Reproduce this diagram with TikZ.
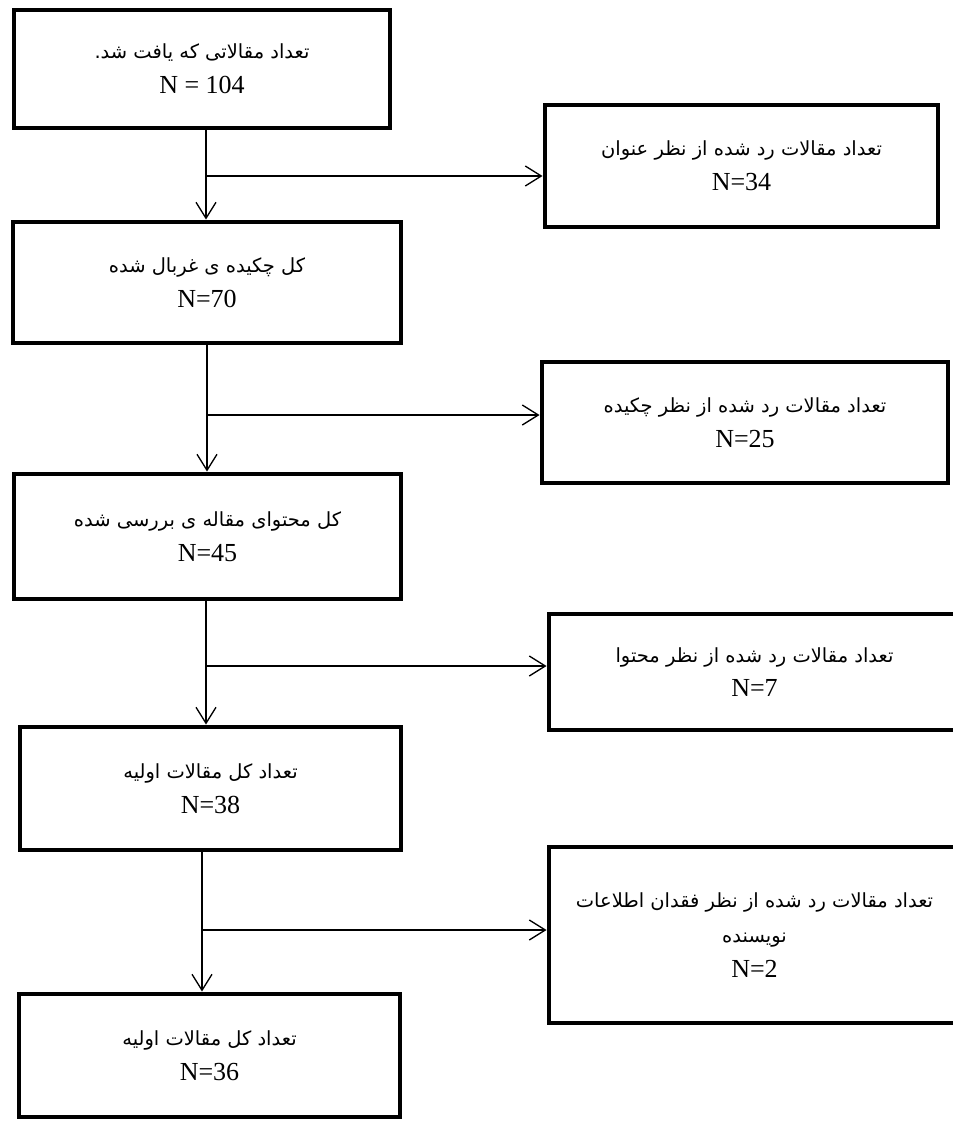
\documentclass[tikz,border=0pt]{standalone}
\usepackage{fontspec}
\setmainfont{Liberation Serif}
\newfontfamily\arabicfont[Script=Arabic]{DejaVu Sans}
\TeXXeTstate=1
\usetikzlibrary{positioning, arrows.meta}
\newcommand{\fa}[1]{{\arabicfont\fontsize{14.6}{26}\selectfont\beginR #1\endR}}

\begin{document}
\begin{tikzpicture}[x=0.75pt, y=-0.75pt, box/.style = {draw, rectangle, line width=3.7pt, align=center, inner sep=0pt, font=\fontsize{19.5}{26}\selectfont}, size/.style 2 args = {minimum width=#1*0.75pt, minimum height=#2*0.75pt}, flow/.style = {line width=1pt, -{Straight Barb[length=12pt, width=15pt]}}]
\useasboundingbox (0,0) rectangle (953,1122);

% main column
\node[box, size={376}{118}] (b1) at (202,69) {\fa{تعداد مقالاتی که یافت شد.}\\N = 104};
\node[box, size={388}{121}] (b2) at (207,282.5) {\fa{کل چکیده ی غربال شده}\\N=70};
\node[box, size={387}{125}] (b3) at (207.5,536.5) {\fa{کل محتوای مقاله ی بررسی شده}\\N=45};
\node[box, size={381}{123}] (b4) at (210.5,788.5) {\fa{تعداد کل مقالات اولیه}\\N=38};
\node[box, size={381}{123}] (b5) at (209.5,1055.5) {\fa{تعداد کل مقالات اولیه}\\N=36};

% rejected
\node[box, size={393}{122}] (r1) at (741.5,166) {\fa{تعداد مقالات رد شده از نظر عنوان}\\N=34};
\node[box, size={406}{121}] (r2) at (745,422.5) {\fa{تعداد مقالات رد شده از نظر چکیده}\\N=25};
\node[box, size={411}{116}] (r3) at (754.5,672) {\fa{تعداد مقالات رد شده از نظر محتوا}\\N=7};
\node[box, size={411}{176}] (r4) at (754.5,935) {\fa{تعداد مقالات رد شده از نظر فقدان اطلاعات}\\\fa{نویسنده}\\N=2};

\coordinate (j1) at (206,176);
\coordinate (j2) at (207,415);
\coordinate (j3) at (206,666);
\coordinate (j4) at (202,930);

\draw[flow] (b1.south -| j1) -- (b2.north -| j1);
\draw[flow] (b2.south -| j2) -- (b3.north -| j2);
\draw[flow] (b3.south -| j3) -- (b4.north -| j3);
\draw[flow] (b4.south -| j4) -- (b5.north -| j4);

\draw[flow] (j1) -- (r1.west |- j1);
\draw[flow] (j2) -- (r2.west |- j2);
\draw[flow] (j3) -- (r3.west |- j3);
\draw[flow] (j4) -- (r4.west |- j4);
\end{tikzpicture}
\end{document}
